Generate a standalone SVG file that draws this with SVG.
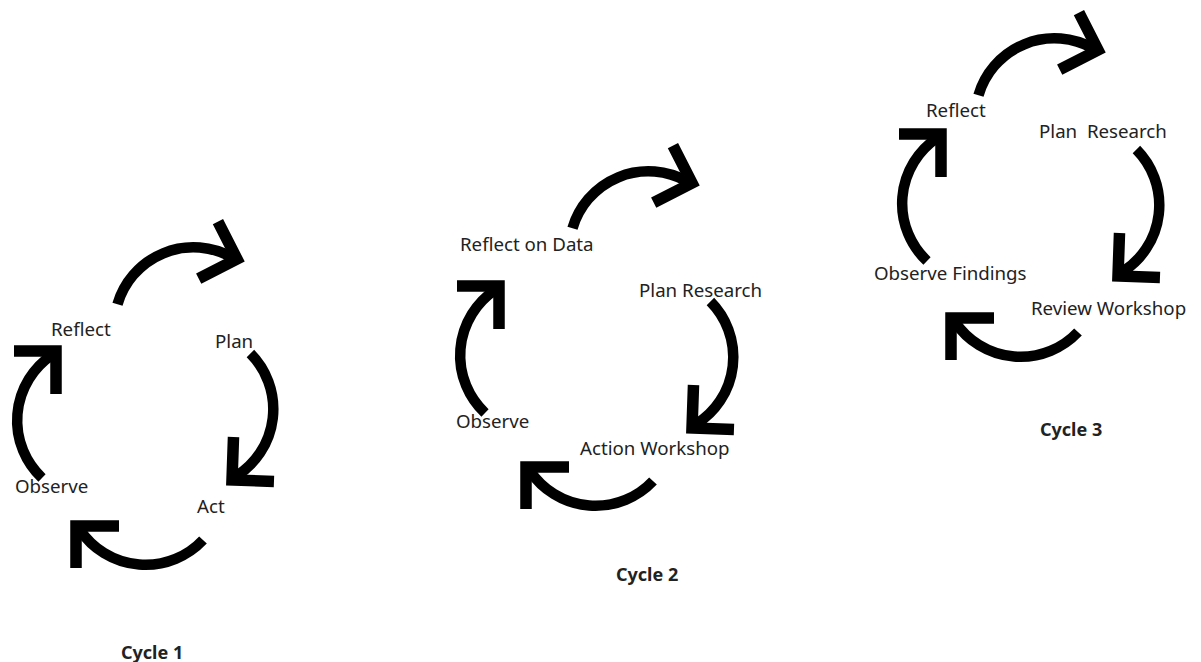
<svg xmlns="http://www.w3.org/2000/svg" xmlns:xlink="http://www.w3.org/1999/xlink" width="1201" height="662" viewBox="0 0 1201 662">
<style>
.lbl{font-family:"Noto Sans","Open Sans","Liberation Sans",sans-serif;font-size:18.7px;fill:#222;white-space:pre}
.ttl{font-family:"Noto Sans","Open Sans","Liberation Sans",sans-serif;font-size:18px;font-weight:bold;fill:#222}
.arc{fill:none;stroke:#000;stroke-width:10.5}
.head{fill:none;stroke:#000;stroke-width:11.5;stroke-linejoin:miter;stroke-linecap:butt}
</style>
<defs>
<g id="arw">
<path class="arc" d="M127,14 A79,79 0 0 1 4,4"/>
<path class="head" d="M43,0 L0,0 L0,42"/>
</g>
</defs>
<rect width="1201" height="662" fill="#fff"/>
<g id="connectors">
<use xlink:href="#arw" href="#arw" transform="translate(237,259) rotate(153)"/>
<use xlink:href="#arw" href="#arw" transform="translate(232,480) rotate(-88)"/>
<use xlink:href="#arw" href="#arw" transform="translate(76,526)"/>
<use xlink:href="#arw" href="#arw" transform="translate(56,351) rotate(90)"/>
<use xlink:href="#arw" href="#arw" transform="translate(692,183) rotate(153)"/>
<use xlink:href="#arw" href="#arw" transform="translate(692,428) rotate(-88)"/>
<use xlink:href="#arw" href="#arw" transform="translate(526,467)"/>
<use xlink:href="#arw" href="#arw" transform="translate(499,286) rotate(90)"/>
<use xlink:href="#arw" href="#arw" transform="translate(1098,50) rotate(153)"/>
<use xlink:href="#arw" href="#arw" transform="translate(1118,276) rotate(-88)"/>
<use xlink:href="#arw" href="#arw" transform="translate(951,318)"/>
<use xlink:href="#arw" href="#arw" transform="translate(941,134) rotate(90)"/>
</g>
<g id="c1-reflect"><text class="lbl" x="51" y="336">Reflect</text></g>
<g id="c1-plan"><text class="lbl" x="215" y="348">Plan</text></g>
<g id="c1-act"><text class="lbl" x="197" y="513">Act</text></g>
<g id="c1-observe"><text class="lbl" x="15" y="493">Observe</text></g>
<g id="c1-title"><text class="ttl" x="121" y="659">Cycle 1</text></g>
<g id="c2-reflect"><text class="lbl" x="460" y="251">Reflect on Data</text></g>
<g id="c2-plan"><text class="lbl" x="639" y="297">Plan Research</text></g>
<g id="c2-act"><text class="lbl" x="580" y="455">Action Workshop</text></g>
<g id="c2-observe"><text class="lbl" x="456" y="428">Observe</text></g>
<g id="c2-title"><text class="ttl" x="616" y="581">Cycle 2</text></g>
<g id="c3-reflect"><text class="lbl" x="926" y="117">Reflect</text></g>
<g id="c3-plan"><text class="lbl" x="1039" y="138">Plan  Research</text></g>
<g id="c3-act"><text class="lbl" x="1031" y="315">Review Workshop</text></g>
<g id="c3-observe"><text class="lbl" x="874" y="280">Observe Findings</text></g>
<g id="c3-title"><text class="ttl" x="1040" y="436">Cycle 3</text></g>
</svg>
